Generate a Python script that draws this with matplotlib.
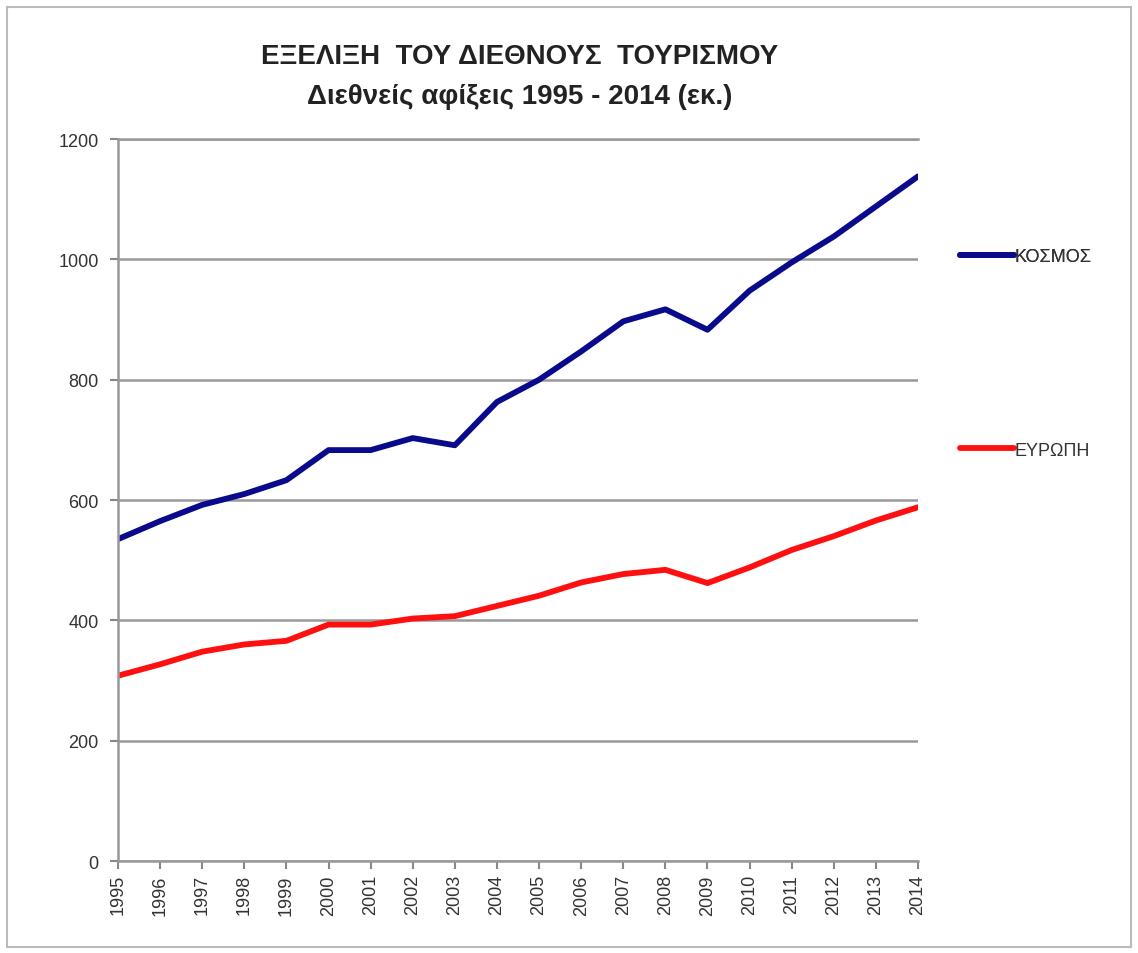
import matplotlib.pyplot as plt
from matplotlib.patches import Rectangle

plt.switch_backend('agg')
plt.rcParams['font.family'] = ['Liberation Sans', 'DejaVu Sans']

# Δεδομένα (εκατομμύρια αφίξεις)
years = [str(y) for y in range(1995, 2015)]
kosmos = [535, 565, 592, 610, 633, 683, 683, 703, 691, 763,
          800, 847, 897, 917, 883, 948, 995, 1038, 1088, 1138]
europi = [308, 327, 348, 360, 366, 393, 393, 403, 407, 424,
          441, 463, 477, 484, 462, 488, 517, 540, 566, 588]

fig = plt.figure(figsize=(11.38, 9.54), dpi=100)
ax = fig.add_axes([0.1037, 0.0964, 0.7030, 0.7568])

x = range(len(years))
l1, = ax.plot(x, kosmos, color='#0a0a8c', lw=4.2, solid_capstyle='round')
l2, = ax.plot(x, europi, color='#ff1010', lw=4.2, solid_capstyle='round')

ax.set_xlim(0, len(years) - 1)
ax.set_ylim(0, 1200)
ax.set_yticks(range(0, 1201, 200))
ax.set_xticks(list(x))
ax.set_xticklabels(years, rotation=90, fontsize=13, color='#333333')
ax.tick_params(axis='y', labelsize=13, labelcolor='#333333', color='#888888',
               length=6, width=1.5, pad=8)
ax.tick_params(axis='x', color='#888888', length=6, width=1.5)
ax.grid(axis='y', color='#999999', lw=1.8)
ax.set_axisbelow(True)
ax.spines['right'].set_visible(False)
for s in ['left', 'bottom', 'top']:
    ax.spines[s].set_color('#999999')
    ax.spines[s].set_linewidth(1.8)

fig.text(0.457, 0.940, 'ΕΞΕΛΙΞΗ  ΤΟΥ ΔΙΕΘΝΟΥΣ  ΤΟΥΡΙΣΜΟΥ', ha='center', va='center',
         fontsize=20, fontweight='bold', color='#222222')
fig.text(0.457, 0.898, 'Διεθνείς αφίξεις 1995 - 2014 (εκ.)', ha='center', va='center',
         fontsize=20, fontweight='bold', color='#222222')

# υπόμνημα
leg1 = fig.legend(handles=[l1], labels=['ΚΟΣΜΟΣ'], loc='center left',
                  bbox_to_anchor=(0.829, 0.730), frameon=False, handlelength=3.0,
                  handletextpad=0.05, fontsize=13, labelcolor='#333333')
leg2 = fig.legend(handles=[l2], labels=['ΕΥΡΩΠΗ'], loc='center left',
                  bbox_to_anchor=(0.829, 0.527), frameon=False, handlelength=3.0,
                  handletextpad=0.05, fontsize=13, labelcolor='#333333')
fig.add_artist(leg1)

fig.patches.append(Rectangle((0.006, 0.006), 0.988, 0.986, transform=fig.transFigure,
                             fill=False, edgecolor='#bbbbbb', lw=1.5))

fig.savefig('out.png', dpi=100)
plt.close()
